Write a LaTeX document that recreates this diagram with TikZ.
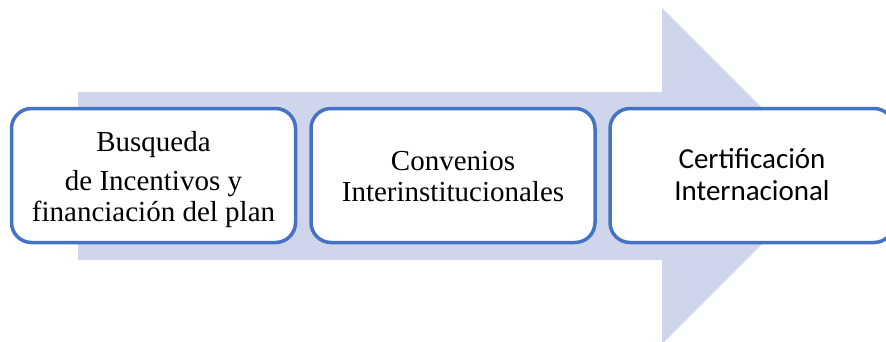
\documentclass[tikz,border=0pt]{standalone}
\usepackage{fontspec}
\setmainfont{Liberation Serif}
\newfontfamily\calib{Carlito}
\definecolor{arrowfill}{HTML}{CFD5EA}
\definecolor{boxline}{HTML}{4472C4}
\begin{document}
\begin{tikzpicture}[x=1pt,y=-1pt,
  stagebox/.style={draw=boxline, line width=3.5pt, fill=white, rounded corners=20pt,
    minimum width=284pt, minimum height=134pt, inner sep=0pt},
  seriftext/.style={align=center, text=black, inner sep=0pt, font=\fontsize{29}{30.5}\selectfont},
  sanstext/.style={align=center, text=black, inner sep=0pt, font=\calib\fontsize{29}{32}\selectfont}]
\useasboundingbox (0,0) rectangle (886,341);
\fill[arrowfill] (78,92) -- (662,92) -- (662,8) -- (830,176) -- (662,344) -- (662,260) -- (78,260) -- cycle;
\node[stagebox] (b1) at (153.5,175.5) {};
\node[stagebox] (b2) at (453,175.5) {};
\node[stagebox] (b3) at (752,175.5) {};
\node[seriftext] (t1) at (153.5,179.5) {Busqueda\\[9pt] de Incentivos y\\financiación del plan};
\node[seriftext] (t2) at (453,176.5) {Convenios\\Interinstitucionales};
\node[sanstext] (t3) at (752,175) {Certificación\\Internacional};
\end{tikzpicture}
\end{document}
